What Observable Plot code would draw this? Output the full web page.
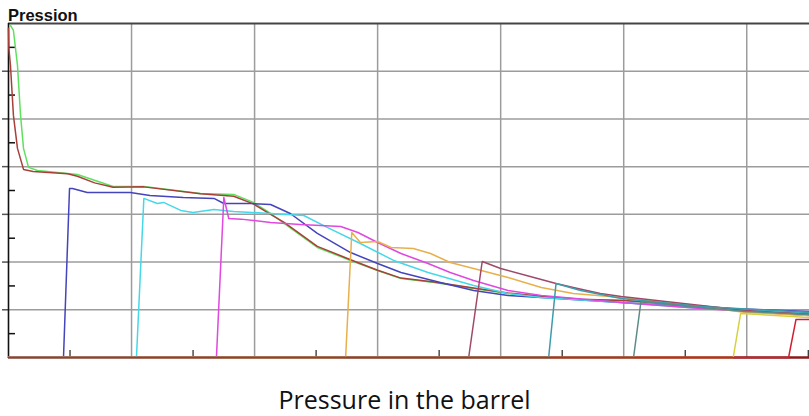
<!DOCTYPE html>
<html>
<head>
<meta charset="utf-8">
<script src="https://cdn.jsdelivr.net/npm/d3@7"></script>
<script src="https://cdn.jsdelivr.net/npm/@observablehq/plot@0.6"></script>
<style>
  body { margin: 0; background: #fff; }
  #wrap { position: relative; width: 809px; height: 416px; }
  #title { position: absolute; left: 8px; top: 7px; font: bold 16.5px/16px "Liberation Sans", Arial, sans-serif; color: #111; }
  #caption { position: absolute; left: 0; top: 387px; width: 809px; text-align: center; font: 25px/25px "Open Sans", sans-serif; color: #111; }
</style>
</head>
<body>
<div id="wrap">
  <div id="chart"></div>
  <div id="title">Pression</div>
  <div id="caption">Pressure in the barrel</div>
</div>
<script>
// Pressure traces recorded at successive gauges along the barrel: [time, pressure]
const gaugeGreen = [[0.016,3480],[0.04,3427],[0.057,3238],[0.073,3060],[0.098,2537],[0.122,2191],[0.163,1992],[0.236,1960],[0.48,1929],[0.56,1918],[0.85,1792],[1.1,1792],[1.56,1719],[1.83,1709],[1.99,1625],[2.13,1509],[2.24,1405],[2.51,1153],[2.78,1017],[3.0,912],[3.19,828],[3.46,786],[3.78,723],[4.06,671],[4.33,639],[4.65,608],[5.0,597],[5.63,535],[5.99,493],[6.51,461]];
const gaugeBrown = [[0,3450],[0.003,3240],[0.016,3060],[0.04,2537],[0.073,2191],[0.122,1971],[0.2,1950],[0.48,1925],[0.56,1900],[0.7,1830],[0.85,1785],[1.1,1788],[1.56,1715],[1.83,1690],[1.99,1610],[2.13,1500],[2.24,1415],[2.51,1165],[2.78,1025],[3.0,915],[3.19,832],[3.46,790],[3.78,728],[4.06,676],[4.33,642],[4.65,610],[5.0,598],[5.63,540],[5.99,498],[6.51,456]];
const gaugeBlue = [[0,0],[0.447,0],[0.496,1771],[0.52,1771],[0.64,1729],[0.99,1729],[1.15,1698],[1.42,1677],[1.67,1667],[1.75,1614],[1.97,1614],[2.13,1603],[2.29,1509],[2.51,1300],[2.78,1100],[3.0,985],[3.19,891],[3.51,786],[3.78,702],[4.06,650],[4.33,629],[4.98,576],[5.63,524],[6.51,482]];
const gaugeCyan = [[0,0],[1.04,0],[1.1,1667],[1.21,1614],[1.26,1625],[1.4,1541],[1.5,1520],[1.67,1551],[1.83,1530],[2.13,1509],[2.4,1488],[2.59,1363],[2.86,1195],[3.13,1017],[3.41,891],[3.78,755],[4.06,671],[4.33,629],[4.98,576],[5.63,514],[6.51,472]];
const gaugeMagenta = [[0,0],[1.69,0],[1.75,1677],[1.79,1457],[1.89,1450],[1.99,1436],[2.13,1415],[2.37,1394],[2.7,1373],[2.84,1310],[3.0,1205],[3.19,1090],[3.41,985],[3.59,891],[3.78,807],[4.06,702],[4.33,650],[4.98,576],[5.63,514],[6.51,440]];
const gaugeOrange = [[0,0],[2.74,0],[2.79,1310],[2.86,1205],[3.0,1216],[3.11,1153],[3.29,1142],[3.43,1090],[3.59,996],[3.78,933],[4.06,839],[4.33,734],[4.59,671],[4.98,629],[5.63,535],[5.99,472],[6.51,440]];
const gaugeMaroon = [[0,0],[3.74,0],[3.85,1006],[4.0,933],[4.33,818],[4.45,776],[4.59,734],[4.81,671],[4.98,639],[5.63,545],[5.99,493],[6.51,451]];
const gaugeTeal = [[0,0],[4.39,0],[4.45,776],[4.65,702],[4.98,618],[5.63,535],[6.51,472]];
const gaugeSlate = [[0,0],[5.08,0],[5.14,587],[5.63,524],[5.99,482],[6.51,451]];
const gaugeYellow = [[0,0],[5.89,0],[5.95,461],[6.51,419]];
const gaugeRed = [[0,0],[6.34,0],[6.4,398],[6.51,398]];

const seriesNames = ["G1","G2","G3","G4","G5","G6","G7","G8","G9","G10","G11"];
const seriesData = [gaugeGreen, gaugeBrown, gaugeBlue, gaugeCyan, gaugeMagenta, gaugeOrange, gaugeMaroon, gaugeTeal, gaugeSlate, gaugeYellow, gaugeRed];
const seriesColors = ["#5fe05f","#a8403a","#4444bc","#45d8e8","#e048e0","#e8b04c","#a04868","#3c9cac","#5a8c88","#d8d040","#d02030"];

// Grid and tick positions
const xMajor = [1, 2, 3, 4, 5, 6];
const xMinor = [0.5, 1.5, 2.5, 3.5, 4.5, 5.5, 6.5];
const yMajor = [500, 1000, 1500, 2000, 2500, 3000];
const yMinor = [250, 750, 1250, 1750, 2250, 2750, 3250];

const rows = seriesData.flatMap((pts, i) => pts.map(([t, p]) => ({series: seriesNames[i], t, p})));

const chart = Plot.plot({
  width: 809,
  height: 366,
  marginTop: 23,
  marginLeft: 8,
  marginRight: 0,
  marginBottom: 9,
  x: {domain: [0, 6.51], axis: null},
  y: {domain: [0, 3500], axis: null},
  color: {domain: seriesNames, range: seriesColors},
  style: {background: "#fff"},
  marks: [
    Plot.ruleX(xMajor, {stroke: "#9c9c9c", strokeWidth: 1.5}),
    Plot.ruleY(yMajor, {stroke: "#9c9c9c", strokeWidth: 1.5}),
    Plot.axisY({anchor: "left", ticks: yMajor, tickSize: 6, fill: "none", stroke: "#555", strokeWidth: 1.5}),
    Plot.axisY({anchor: "left", ticks: yMinor, tickSize: -7, fill: "none", stroke: "#111", strokeWidth: 1.5}),
    Plot.axisX({anchor: "bottom", ticks: xMinor, tickSize: -7, fill: "none", stroke: "#222", strokeWidth: 1.2}),
    Plot.ruleY([3500], {stroke: "#444", strokeWidth: 2}),
    Plot.ruleX([0], {stroke: "#111", strokeWidth: 1.6}),
    Plot.ruleY([0], {stroke: "#8a1a1a", strokeWidth: 2.5}),
    Plot.line(rows, {x: "t", y: "p", z: "series", stroke: "series", strokeWidth: 1.5})
  ]
});
document.getElementById("chart").appendChild(chart);
</script>
</body>
</html>
